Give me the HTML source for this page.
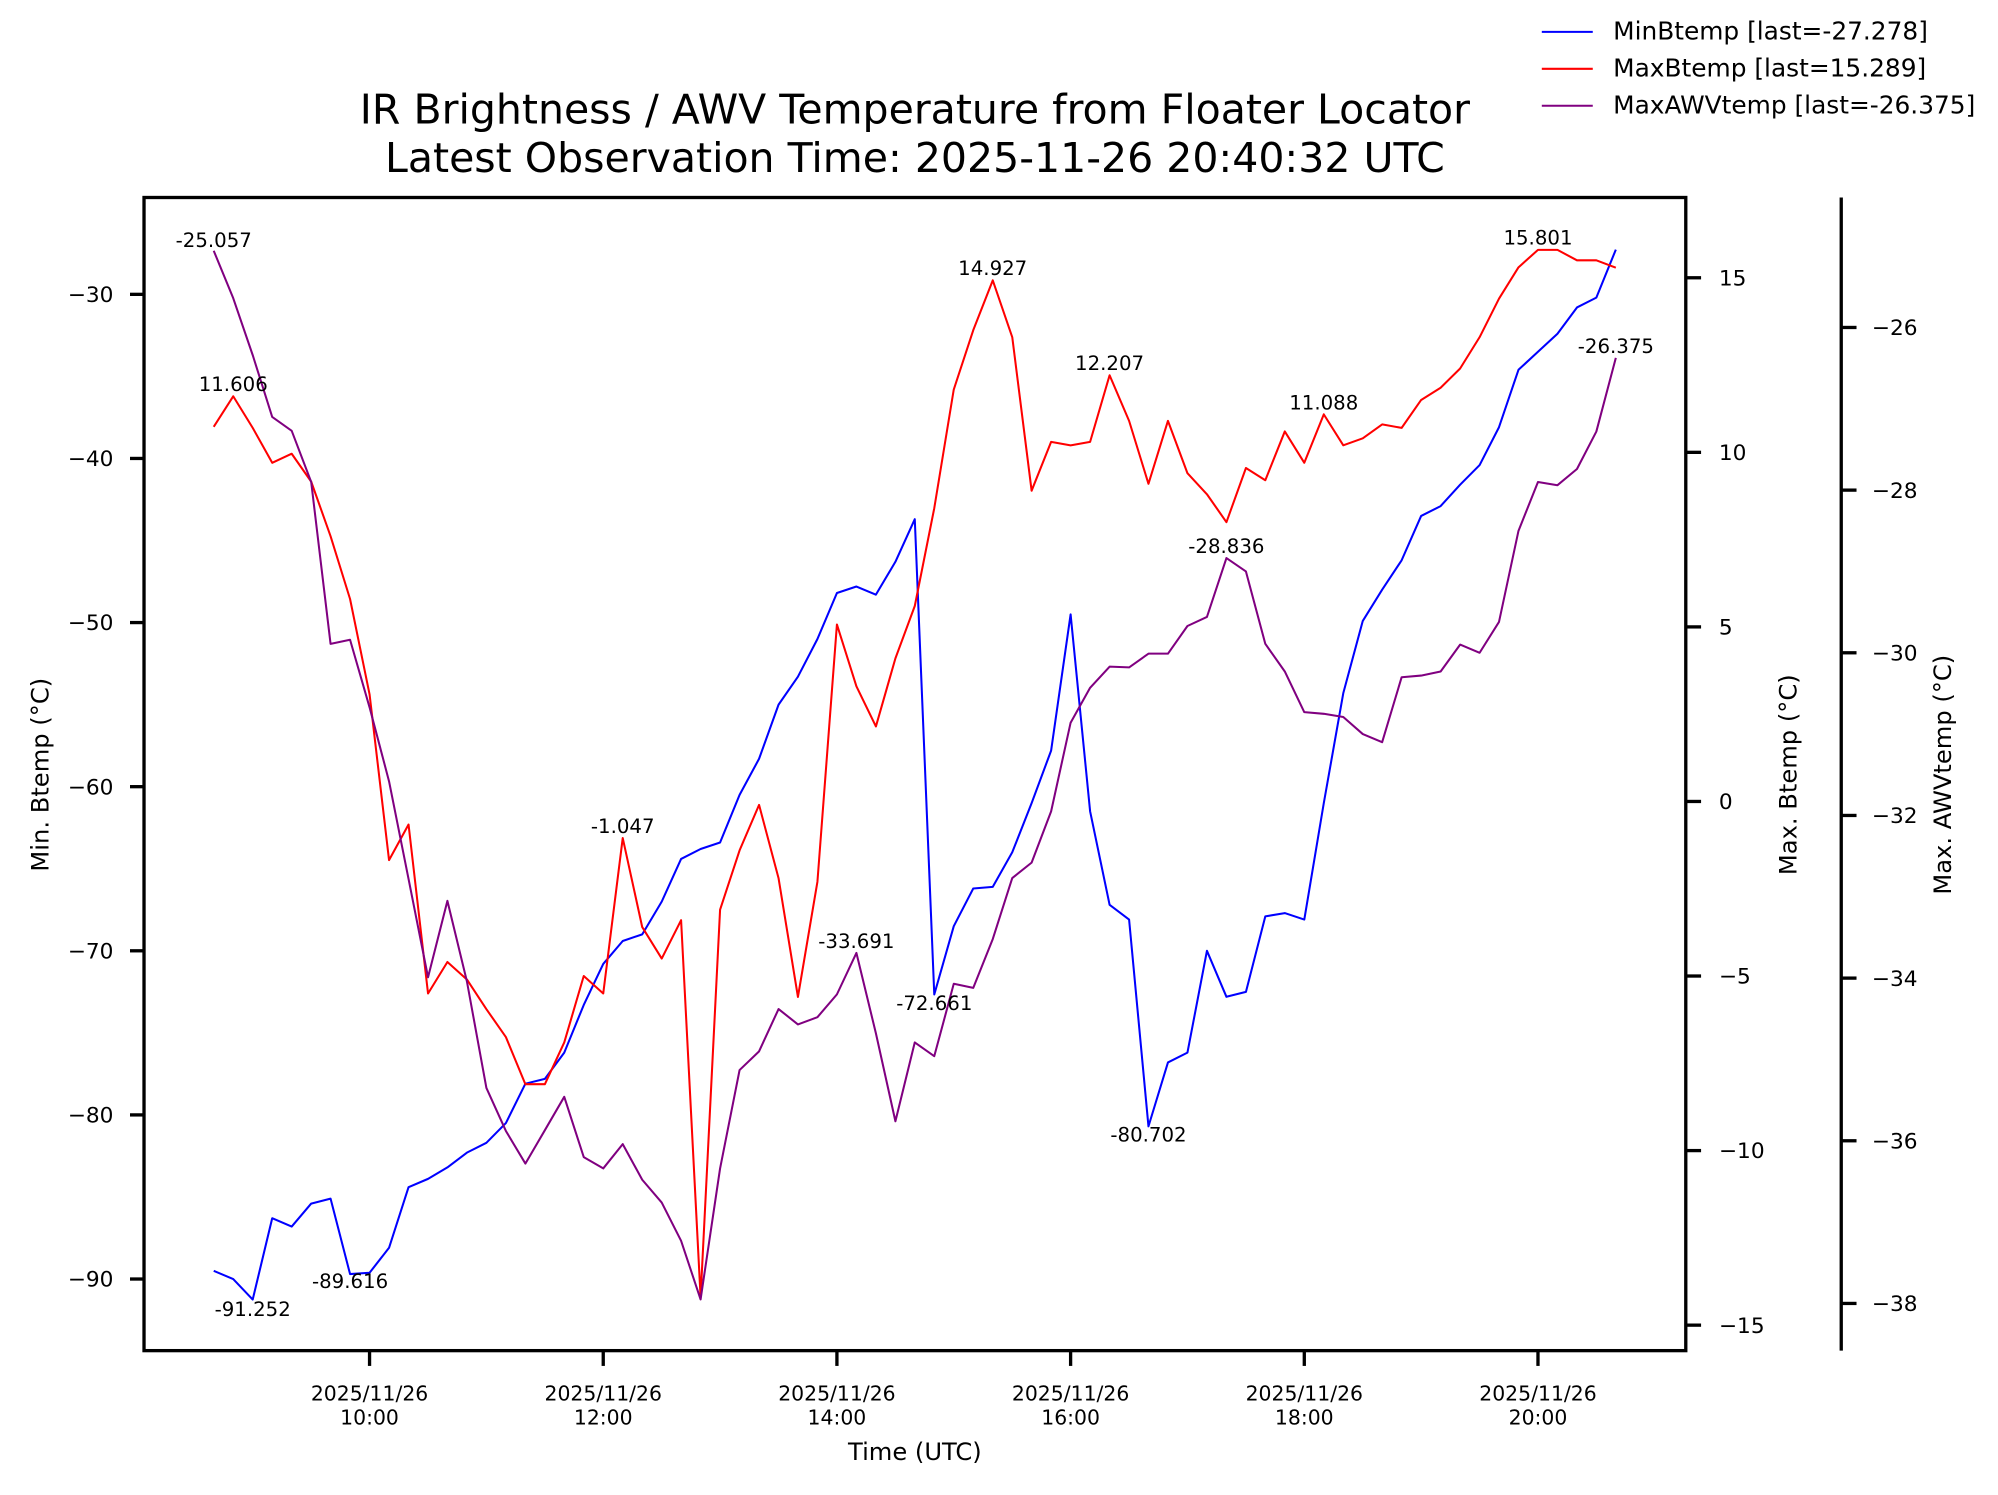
<!DOCTYPE html>
<html><head><meta charset="utf-8"><style>html,body{margin:0;padding:0;background:#fff}svg{display:block}text{font-family:"DejaVu Sans","Liberation Sans",sans-serif}</style></head>
<body>
<svg id="chart" width="1998" height="1495" viewBox="0 0 1568 1173.3" xmlns="http://www.w3.org/2000/svg">
<rect width="1568" height="1174" fill="#fff"/>
<g id="g"></g>
</svg>
<script>
const minBtemp=[-89.5,-90,-91.252,-86.3,-86.8,-85.4,-85.1,-89.7,-89.616,-88.1,-84.4,-83.9,-83.2,-82.3,-81.7,-80.5,-78.1,-77.8,-76.2,-73.3,-70.8,-69.4,-69.0,-67.0,-64.4,-63.8,-63.4,-60.5,-58.3,-55.0,-53.3,-51.0,-48.2,-47.8,-48.3,-46.3,-43.7,-72.661,-68.5,-66.2,-66.1,-64.0,-61.0,-57.8,-49.5,-61.5,-67.2,-68.1,-80.702,-76.8,-76.2,-70.0,-72.8,-72.5,-67.9,-67.7,-68.1,-61.0,-54.3,-49.9,-48.0,-46.2,-43.5,-42.9,-41.6,-40.4,-38.1,-34.6,-33.5,-32.4,-30.8,-30.2,-27.278];
const maxBtemp=[10.73,11.606,10.7,9.7,9.96,9.16,7.6,5.8,3.07,-1.68,-0.66,-5.5,-4.6,-5.1,-5.95,-6.75,-8.1,-8.1,-6.9,-5.0,-5.5,-1.047,-3.6,-4.5,-3.4,-14.2,-3.1,-1.4,-0.1,-2.2,-5.6,-2.3,5.07,3.3,2.15,4.1,5.6,8.4,11.8,13.5,14.927,13.3,8.9,10.3,10.2,10.3,12.207,10.9,9.1,10.9,9.4,8.8,8.0,9.55,9.2,10.6,9.7,11.088,10.2,10.4,10.8,10.7,11.5,11.85,12.4,13.3,14.4,15.3,15.801,15.8,15.5,15.5,15.289];
const maxAWV=[-25.057,-25.64,-26.34,-27.1,-27.27,-27.9,-29.89,-29.84,-30.67,-31.58,-32.78,-33.99,-33.05,-34.04,-35.35,-35.88,-36.28,-35.87,-35.46,-36.2,-36.34,-36.04,-36.48,-36.76,-37.23,-37.95,-36.34,-35.13,-34.9,-34.38,-34.57,-34.48,-34.2,-33.691,-34.68,-35.76,-34.79,-34.96,-34.07,-34.12,-33.52,-32.77,-32.58,-31.95,-30.86,-30.43,-30.17,-30.18,-30.01,-30.01,-29.67,-29.56,-28.836,-29.0,-29.89,-30.23,-30.73,-30.75,-30.79,-31.0,-31.1,-30.3,-30.28,-30.23,-29.9,-30.0,-29.62,-28.5,-27.9,-27.94,-27.74,-27.28,-26.375];
const startHour=8+40/60, stepHour=10/60;
const leftTicks=[-30,-40,-50,-60,-70,-80,-90];
const r1Ticks=[15,10,5,0,-5,-10,-15];
const r2Ticks=[-26,-28,-30,-32,-34,-36,-38];
const xTickHours=[10,12,14,16,18,20];
const xTickLabels=["10:00","12:00","14:00","16:00","18:00","20:00"];
// annotations: [series, index, text, dy]
const annotations=[["awv",0,"-25.057",-3],["max",1,"11.606",-4],["min",2,"-91.252",13],["min",7,"-89.616",11],["max",21,"-1.047",-4],["awv",33,"-33.691",-4],["min",37,"-72.661",12],["max",40,"14.927",-4],["max",46,"12.207",-4],["awv",52,"-28.836",-4],["min",48,"-80.702",12],["max",57,"11.088",-4],["max",68,"15.801",-4],["awv",72,"-26.375",-4]];

const X=h=>290+(h-10)*91.7;
const YL=v=>231+(-30-v)*12.88;
const YR1=v=>218+(15-v)*27.4;
const YR2=v=>257+(-26-v)*63.83;
const g=document.getElementById('g');
const NS="http://www.w3.org/2000/svg";
function el(tag,attrs,txt){const e=document.createElementNS(NS,tag);for(const k in attrs)e.setAttribute(k,attrs[k]);if(txt!==undefined)e.textContent=txt;g.appendChild(e);return e;}
const L=113,R=1323,T=155,B=1060;
function series(arr,yf,color,name){
  const pts=arr.map((v,i)=>X(startHour+i*stepHour).toFixed(1)+","+yf(v).toFixed(1)).join(" ");
  const p=el('polyline',{points:pts,fill:"none",stroke:color,"stroke-width":1.6,"stroke-linejoin":"round"});
  
  
}
series(minBtemp,YL,"#0000ff","min-btemp-line");
series(maxBtemp,YR1,"#ff0000","max-btemp-line");
series(maxAWV,YR2,"#800080","max-awv-temp-line");
const sMap={min:[minBtemp,YL],max:[maxBtemp,YR1],awv:[maxAWV,YR2]};
annotations.forEach(a=>{const [arr,yf]=sMap[a[0]];const x=X(startHour+a[1]*stepHour);const y=yf(arr[a[1]])+a[3];
  const t=el('text',{x:x,y:y,"font-size":15.5,"text-anchor":"middle"},a[2]);
  
  });
const fr=el('rect',{x:L,y:T,width:R-L,height:B-T,fill:"none",stroke:"#000","stroke-width":2.6});


const sp=el('line',{x1:1445,y1:T,x2:1445,y2:B,stroke:"#000","stroke-width":2.6});


leftTicks.forEach(v=>{const y=YL(v);el('line',{x1:L-11,y1:y,x2:L,y2:y,stroke:"#000","stroke-width":2.6});
  const t=el('text',{x:L-24,y:y+6,"font-size":17,"text-anchor":"end"},"\u2212"+Math.abs(v));
  
  });
r1Ticks.forEach(v=>{const y=YR1(v);el('line',{x1:R,y1:y,x2:R+12,y2:y,stroke:"#000","stroke-width":2.6});
  const t=el('text',{x:R+26,y:y+6,"font-size":17},(v<0?"\u2212":"")+Math.abs(v));
  
  });
r2Ticks.forEach(v=>{const y=YR2(v);el('line',{x1:1445,y1:y,x2:1457,y2:y,stroke:"#000","stroke-width":2.6});
  const t=el('text',{x:1469,y:y+6,"font-size":17},"\u2212"+Math.abs(v));
  
  });
xTickHours.forEach((h,i)=>{const x=X(h);el('line',{x1:x,y1:B,x2:x,y2:B+12,stroke:"#000","stroke-width":2.6});
  const t1=el('text',{x:x,y:1099,"font-size":16,"text-anchor":"middle"},"2025/11/26");
  
  
  const t2=el('text',{x:x,y:1118,"font-size":16,"text-anchor":"middle"},xTickLabels[i]);
  
  });
</script>
<svg style="position:absolute;left:0;top:0" width="1998" height="1495" viewBox="0 0 1568 1173.3" xmlns="http://www.w3.org/2000/svg">
<text x="718" y="97" font-size="32.2" text-anchor="middle" font-family="DejaVu Sans, Liberation Sans, sans-serif">IR Brightness / AWV Temperature from Floater Locator</text>
<text x="718" y="135" font-size="32.2" text-anchor="middle" font-family="DejaVu Sans, Liberation Sans, sans-serif">Latest Observation Time: 2025-11-26 20:40:32 UTC</text>
<text x="718" y="1146" font-size="19" text-anchor="middle" font-family="DejaVu Sans, Liberation Sans, sans-serif">Time (UTC)</text>
<text transform="translate(38,608) rotate(-90)" font-size="19" text-anchor="middle" font-family="DejaVu Sans, Liberation Sans, sans-serif">Min. Btemp (°C)</text>
<text transform="translate(1410,608) rotate(-90)" font-size="19" text-anchor="middle" font-family="DejaVu Sans, Liberation Sans, sans-serif">Max. Btemp (°C)</text>
<text transform="translate(1531,608) rotate(-90)" font-size="19" text-anchor="middle" font-family="DejaVu Sans, Liberation Sans, sans-serif">Max. AWVtemp (°C)</text>
<g font-family="DejaVu Sans, Liberation Sans, sans-serif" font-size="19.5">
<line x1="1210" y1="25" x2="1250" y2="25" stroke="#0000ff" stroke-width="1.6"/>
<text x="1266" y="31">MinBtemp [last=-27.278]</text>
<line x1="1210" y1="54" x2="1250" y2="54" stroke="#ff0000" stroke-width="1.6"/>
<text x="1266" y="60">MaxBtemp [last=15.289]</text>
<line x1="1210" y1="83" x2="1250" y2="83" stroke="#800080" stroke-width="1.6"/>
<text x="1266" y="89">MaxAWVtemp [last=-26.375]</text>
</g>
</svg>
</body></html>
